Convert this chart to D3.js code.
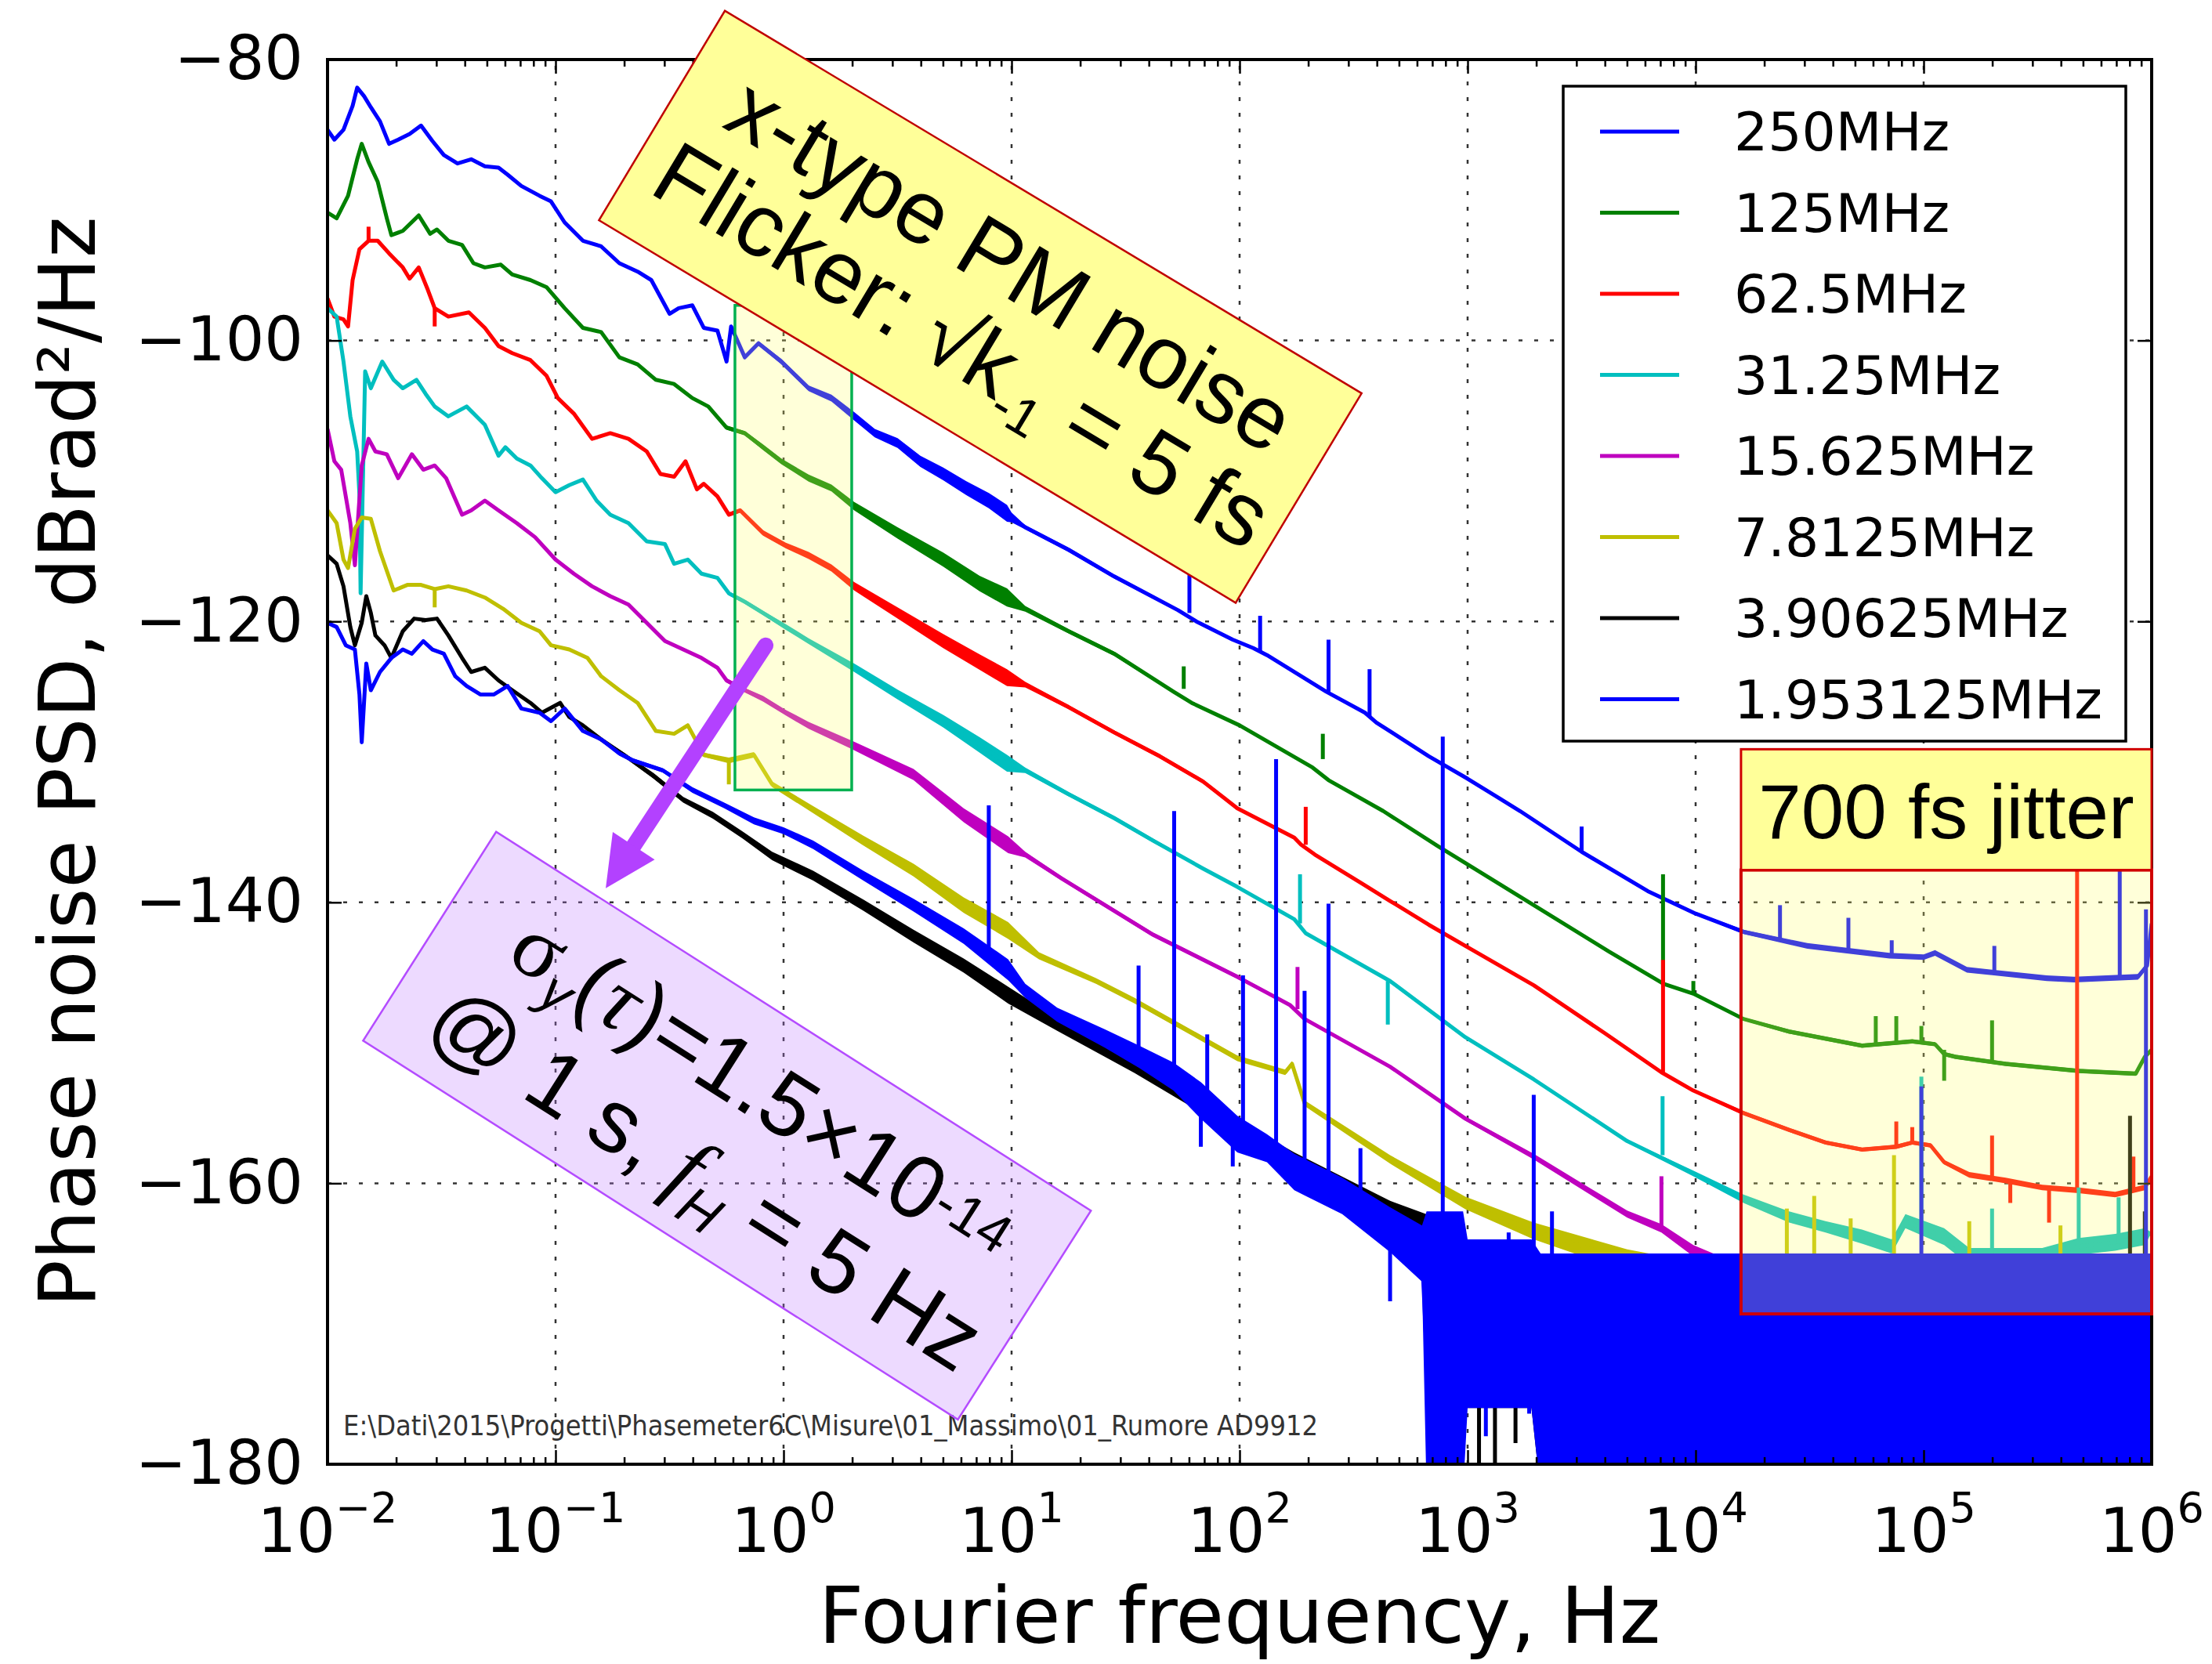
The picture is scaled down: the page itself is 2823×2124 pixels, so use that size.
<!DOCTYPE html>
<meta charset="utf-8">
<style>
  body { margin: 0; background: #fff; }
  svg { display: block; }
</style>
<body></body>
<script src="https://d3js.org/d3.v7.min.js"></script>
<script>

// Values.
// Each point: [log10(f / Hz), PSD in dBrad^2/Hz, width of the noise band in dB]
const names = ["250MHz", "125MHz", "62.5MHz", "31.25MHz", "15.625MHz", "7.8125MHz", "3.90625MHz", "1.953125MHz"];
const colors = ["#0000ff", "#008000", "#ff0000", "#00bfbf", "#bf00bf", "#bfbf00", "#000000", "#0000ff"];

const psd250 = [[-2.00,-85.0,0],[-1.97,-85.7,0],[-1.93,-85.0,0],[-1.89,-83.3,0],[-1.87,-82.0,0],[-1.84,-82.6,0],[-1.81,-83.4,0],[-1.77,-84.4,0],[-1.73,-86.0,0],[-1.69,-85.7,0],[-1.64,-85.3,0],[-1.59,-84.7,0],[-1.54,-85.8,0],[-1.49,-86.8,0],[-1.43,-87.4,0],[-1.37,-87.1,0],[-1.31,-87.6,0],[-1.25,-87.7,0],[-1.21,-88.2,0],[-1.15,-89.0,0],[-1.07,-89.7,0],[-1.02,-90.1,0],[-0.96,-91.6,0],[-0.88,-92.9,0],[-0.80,-93.3,0],[-0.72,-94.5,0],[-0.64,-95.1,0],[-0.58,-95.7,0],[-0.50,-98.1,0],[-0.46,-97.7,0],[-0.40,-97.5,0],[-0.35,-99.1,0.2],[-0.29,-99.3,0.2],[-0.25,-101.5,0.3],[-0.23,-99.0,0.3],[-0.17,-101.2,0.3],[-0.11,-100.2,0.3],[-0.01,-101.5,0.4],[0.11,-103.4,0.4],[0.21,-104.1,0.5],[0.31,-105.4,0.6],[0.40,-106.6,0.6],[0.50,-107.3,0.7],[0.60,-108.6,0.8],[0.70,-109.5,0.9],[0.80,-110.5,1.0],[0.90,-111.4,1.1],[0.98,-112.3,1.2],[1.00,-112.6,0.7],[1.06,-113.3,0.3],[1.25,-114.9,0.3],[1.45,-116.8,0.3],[1.73,-119.2,0.2],[1.81,-120.0,0.2],[1.97,-121.3,0.2],[2.06,-121.9,0.2],[2.12,-122.4,0.1],[2.38,-125.0,0.1],[2.55,-126.5,0.1],[2.60,-127.2,0.1],[2.83,-129.6,0.1],[3.00,-131.2,0.1],[3.23,-133.5,0.1],[3.50,-136.4,0.2],[3.79,-139.2,0.2],[4.00,-140.8,0.2],[4.21,-142.1,0.3],[4.49,-143.1,0.4],[4.85,-143.8,0.4],[5.00,-143.9,0.4],[5.05,-143.6,0.4],[5.19,-144.8,0.4],[5.54,-145.4,0.4],[5.66,-145.5,0.4],[5.94,-145.3,0.4],[5.98,-144.5,0.4],[6.00,-141.5,0]];
const psd125 = [[-2.00,-90.9,0],[-1.96,-91.3,0],[-1.91,-89.7,0],[-1.87,-87.1,0],[-1.85,-86.0,0],[-1.82,-87.3,0],[-1.78,-88.7,0],[-1.74,-91.3,0],[-1.72,-92.5,0],[-1.67,-92.2,0],[-1.60,-91.1,0],[-1.55,-92.4,0],[-1.52,-92.1,0],[-1.47,-92.9,0],[-1.41,-93.2,0],[-1.36,-94.5,0],[-1.31,-94.8,0],[-1.24,-94.6,0],[-1.19,-95.3,0],[-1.11,-95.7,0],[-1.04,-96.2,0],[-0.96,-97.7,0],[-0.88,-99.1,0],[-0.80,-99.4,0],[-0.72,-101.2,0],[-0.64,-101.7,0],[-0.56,-102.8,0],[-0.48,-103.1,0],[-0.40,-104.1,0.2],[-0.33,-104.7,0.2],[-0.25,-106.2,0.3],[-0.17,-106.6,0.3],[-0.09,-107.6,0.4],[-0.01,-108.6,0.4],[0.11,-109.8,0.5],[0.21,-110.5,0.5],[0.31,-111.8,0.6],[0.50,-113.7,0.8],[0.70,-115.6,1.0],[0.86,-117.3,1.1],[0.98,-118.3,1.3],[1.06,-119.1,0.4],[1.25,-120.7,0.3],[1.45,-122.3,0.3],[1.71,-125.0,0.2],[1.79,-125.8,0.2],[2.00,-127.4,0.1],[2.32,-130.4,0.1],[2.39,-131.3,0.1],[2.63,-133.5,0.1],[2.87,-136.0,0.1],[3.00,-137.3,0.1],[3.29,-140.2,0.1],[3.62,-143.5,0.1],[3.86,-145.8,0.1],[3.99,-146.5,0.1],[4.21,-148.3,0.2],[4.41,-149.2,0.3],[4.57,-149.7,0.3],[4.73,-150.2,0.3],[4.95,-149.9,0.3],[5.05,-150.1,0.3],[5.09,-150.8,0.3],[5.14,-151.0,0.3],[5.36,-151.5,0.3],[5.68,-152.0,0.3],[5.93,-152.2,0.3],[5.97,-151.0,0.2],[6.00,-150.5,0]];
const psd62 = [[-2.00,-97.0,0],[-1.97,-98.3,0],[-1.93,-98.5,0],[-1.91,-99.0,0],[-1.89,-95.7,0],[-1.86,-93.5,0],[-1.82,-92.9,0],[-1.78,-92.9,0],[-1.73,-93.8,0],[-1.67,-94.8,0],[-1.64,-95.6,0],[-1.60,-94.8,0],[-1.56,-96.4,0],[-1.53,-97.7,0],[-1.47,-98.3,0],[-1.38,-98.0,0],[-1.31,-99.1,0],[-1.25,-100.4,0],[-1.19,-100.9,0],[-1.11,-101.4,0],[-1.04,-102.5,0],[-0.99,-104.1,0],[-0.92,-105.2,0],[-0.84,-107.0,0],[-0.76,-106.6,0],[-0.68,-107.0,0],[-0.60,-107.9,0],[-0.54,-109.5,0],[-0.48,-109.7,0],[-0.43,-108.6,0],[-0.38,-110.6,0.2],[-0.35,-110.2,0.2],[-0.29,-111.1,0.2],[-0.24,-112.4,0.3],[-0.19,-112.1,0.3],[-0.09,-113.7,0.4],[0.01,-114.6,0.4],[0.11,-115.3,0.5],[0.21,-116.2,0.5],[0.31,-117.5,0.6],[0.50,-119.4,0.8],[0.70,-121.4,1.0],[0.86,-122.9,1.1],[0.98,-124.0,1.2],[1.06,-124.5,0.4],[1.25,-126.1,0.3],[1.45,-127.9,0.3],[1.65,-129.6,0.3],[1.84,-131.4,0.3],[1.99,-133.3,0.2],[2.24,-135.4,0.1],[2.27,-135.9,0.1],[2.33,-136.6,0.1],[2.54,-138.7,0.1],[2.66,-139.9,0.1],[2.83,-141.6,0.1],[2.99,-143.1,0.1],[3.29,-145.9,0.1],[3.60,-149.3,0.1],[3.85,-152.1,0.1],[3.99,-153.4,0.2],[4.21,-155.0,0.3],[4.41,-156.2,0.3],[4.57,-157.1,0.3],[4.73,-157.6,0.3],[4.88,-157.4,0.3],[4.95,-157.1,0.3],[5.03,-157.3,0.3],[5.09,-158.5,0.3],[5.20,-159.4,0.4],[5.36,-159.8,0.4],[5.52,-160.3,0.4],[5.68,-160.5,0.4],[5.84,-160.8,0.4],[5.97,-160.3,0.4],[6.00,-159.5,0]];
const psd31 = [[-2.00,-97.7,0],[-1.96,-98.3,0],[-1.93,-101.5,0],[-1.90,-105.4,0],[-1.87,-107.9,0],[-1.86,-111.0,0],[-1.855,-118.0,0],[-1.835,-102.2,0],[-1.81,-103.4,0],[-1.76,-101.5,0],[-1.71,-102.8,0],[-1.67,-103.4,0],[-1.61,-102.8,0],[-1.57,-103.8,0],[-1.53,-104.7,0],[-1.47,-105.4,0],[-1.39,-104.7,0],[-1.31,-106.0,0],[-1.25,-108.2,0],[-1.22,-107.6,0],[-1.17,-108.4,0],[-1.11,-108.9,0],[-1.06,-109.8,0],[-1.00,-110.8,0],[-0.94,-110.3,0],[-0.88,-109.9,0],[-0.82,-111.4,0],[-0.76,-112.4,0],[-0.68,-113.0,0],[-0.60,-114.3,0],[-0.52,-114.5,0],[-0.48,-115.9,0],[-0.42,-115.6,0],[-0.36,-116.6,0.2],[-0.29,-116.9,0.2],[-0.24,-118.0,0.3],[-0.17,-118.6,0.3],[-0.09,-119.4,0.3],[0.01,-120.4,0.4],[0.11,-121.4,0.4],[0.31,-123.3,0.6],[0.50,-125.2,0.7],[0.70,-127.1,0.9],[0.86,-128.8,1.1],[0.98,-130.1,1.2],[1.06,-130.6,0.4],[1.25,-132.3,0.3],[1.45,-134.0,0.3],[1.62,-135.6,0.3],[1.84,-137.6,0.2],[1.99,-138.9,0.2],[2.24,-141.2,0.2],[2.29,-142.2,0.1],[2.66,-145.6,0.1],[2.99,-149.6,0.2],[3.29,-152.6,0.2],[3.70,-157.0,0.2],[3.99,-159.3,0.4],[4.21,-161.1,0.6],[4.41,-162.4,0.8],[4.57,-163.1,0.8],[4.73,-163.8,1.0],[4.86,-164.5,1.0],[4.92,-162.7,1.0],[5.09,-163.8,1.2],[5.20,-165.2,1.2],[5.36,-165.2,1.2],[5.52,-165.2,1.2],[5.68,-164.5,1.2],[5.84,-164.2,1.2],[5.97,-163.8,1.2],[6.00,-163.5,0]];
const psd15 = [[-2.00,-106.3,0],[-1.97,-108.6,0],[-1.94,-109.2,0],[-1.90,-113.0,0],[-1.88,-116.0,0],[-1.85,-108.9,0],[-1.82,-107.0,0],[-1.79,-107.9,0],[-1.74,-108.1,0],[-1.69,-109.8,0],[-1.63,-108.1,0],[-1.58,-109.2,0],[-1.53,-108.9,0],[-1.48,-109.8,0],[-1.41,-112.4,0],[-1.37,-112.1,0],[-1.31,-111.4,0],[-1.25,-112.1,0],[-1.17,-113.0,0],[-1.09,-114.0,0],[-1.00,-115.6,0],[-0.92,-116.6,0],[-0.84,-117.5,0],[-0.76,-118.2,0],[-0.68,-118.8,0],[-0.60,-120.1,0],[-0.52,-121.4,0.2],[-0.44,-122.0,0.2],[-0.36,-122.6,0.2],[-0.29,-123.3,0.3],[-0.25,-124.2,0.3],[-0.17,-124.9,0.3],[-0.09,-125.5,0.4],[0.01,-126.5,0.4],[0.11,-127.4,0.5],[0.30,-128.8,0.6],[0.57,-130.9,0.8],[0.79,-133.8,1.0],[0.985,-135.9,1.2],[1.06,-136.6,0.4],[1.22,-138.3,0.3],[1.62,-142.3,0.3],[1.99,-145.3,0.3],[2.22,-147.3,0.2],[2.285,-148.3,0.2],[2.66,-151.7,0.2],[2.99,-155.4,0.3],[3.29,-158.1,0.4],[3.70,-162.2,0.5],[3.85,-163.2,0.6],[3.99,-164.8,0.8],[4.21,-166.4,1.0],[4.50,-167.3,1.2],[5.00,-167.8,1.2],[5.50,-168.0,1.2],[6.00,-168.2,0]];
const psd7 = [[-2.00,-112.1,0],[-1.96,-113.0,0],[-1.93,-115.6,0],[-1.91,-116.2,0],[-1.88,-113.4,0],[-1.85,-112.6,0],[-1.81,-112.7,0],[-1.77,-115.0,0],[-1.71,-117.8,0],[-1.65,-117.4,0],[-1.59,-117.4,0],[-1.53,-117.7,0],[-1.47,-117.5,0],[-1.39,-117.8,0],[-1.31,-118.3,0],[-1.23,-119.1,0],[-1.15,-120.1,0],[-1.07,-120.7,0],[-1.02,-121.7,0],[-0.94,-122.0,0],[-0.86,-122.6,0],[-0.80,-123.9,0],[-0.72,-124.9,0],[-0.64,-125.8,0],[-0.56,-127.8,0.2],[-0.48,-128.0,0.2],[-0.42,-127.4,0.3],[-0.35,-129.5,0.3],[-0.24,-129.9,0.4],[-0.13,-129.5,0.4],[-0.05,-131.6,0.4],[0.13,-133.4,0.5],[0.35,-135.6,0.7],[0.57,-137.7,0.9],[0.79,-140.2,1.1],[0.985,-142.0,1.2],[1.12,-143.8,0.5],[1.37,-145.6,0.4],[1.54,-147.0,0.4],[1.99,-151.1,0.4],[2.20,-152.1,0.4],[2.23,-151.5,0.4],[2.285,-154.3,0.4],[2.66,-158.3,0.6],[2.99,-161.4,0.9],[3.29,-163.4,1.2],[3.70,-165.5,1.6],[4.12,-167.0,2.0],[4.50,-167.5,2.5],[5.00,-167.5,2.5],[5.50,-167.5,2.5],[6.00,-167.5,0]];
const psd3 = [[-2.00,-115.3,0],[-1.96,-115.9,0],[-1.93,-117.5,0],[-1.90,-120.4,0],[-1.88,-121.7,0],[-1.85,-120.1,0],[-1.83,-118.2,0],[-1.81,-119.4,0],[-1.79,-121.0,0],[-1.75,-121.7,0],[-1.72,-122.6,0],[-1.67,-120.7,0],[-1.62,-119.8,0],[-1.57,-119.9,0],[-1.52,-119.8,0],[-1.47,-121.0,0],[-1.41,-122.6,0],[-1.37,-123.6,0],[-1.31,-123.3,0],[-1.25,-124.2,0],[-1.19,-124.9,0],[-1.11,-125.8,0],[-1.06,-126.5,0],[-0.98,-125.8,0],[-0.94,-126.8,0],[-0.88,-127.4,0.2],[-0.80,-128.4,0.2],[-0.70,-129.5,0.3],[-0.57,-131.0,0.4],[-0.44,-132.7,0.4],[-0.31,-133.8,0.5],[-0.18,-135.2,0.5],[-0.05,-136.7,0.6],[0.13,-138.1,0.7],[0.35,-140.2,0.8],[0.57,-142.4,0.9],[0.79,-144.5,1.0],[0.985,-146.6,1.2],[1.20,-148.7,0.9],[1.54,-151.7,0.9],[1.99,-156.0,1.0],[2.24,-158.4,1.2],[2.66,-162.0,1.5],[2.87,-163.5,2.0],[2.95,-171.0,10],[3.28,-171.0,10],[3.32,-173.5,17],[4.00,-173.5,17],[6.00,-173.5,17]];
const psd1 = [[-2.00,-120.1,0],[-1.96,-120.4,0],[-1.92,-121.7,0],[-1.88,-122.0,0],[-1.86,-125.2,0],[-1.85,-128.6,0],[-1.83,-123.0,0],[-1.81,-124.9,0],[-1.77,-123.6,0],[-1.72,-122.6,0],[-1.67,-122.0,0],[-1.63,-122.3,0],[-1.58,-121.4,0],[-1.54,-122.0,0],[-1.49,-122.3,0],[-1.44,-123.9,0],[-1.39,-124.6,0],[-1.33,-125.2,0],[-1.27,-125.2,0],[-1.21,-124.6,0],[-1.15,-126.2,0],[-1.07,-126.5,0],[-1.02,-127.1,0],[-0.96,-126.2,0],[-0.88,-127.8,0.2],[-0.80,-128.4,0.2],[-0.72,-129.4,0.3],[-0.66,-129.9,0.3],[-0.53,-130.6,0.3],[-0.40,-132.0,0.4],[-0.26,-133.1,0.4],[-0.13,-134.2,0.5],[0.00,-134.9,0.5],[0.13,-135.9,0.6],[0.35,-138.1,0.7],[0.57,-140.2,0.9],[0.79,-142.4,1.1],[0.985,-144.8,1.5],[1.06,-146.3,1.0],[1.20,-148.0,1.0],[1.41,-149.7,1.3],[1.56,-151.0,1.6],[1.71,-152.4,2.0],[1.83,-154.1,2.6],[1.99,-156.5,2.6],[2.12,-157.5,2.0],[2.24,-159.2,2.6],[2.45,-160.9,2.6],[2.66,-163.3,3.2],[2.80,-165.0,4.0],[2.82,-172.0,20],[2.98,-172.0,20],[3.00,-170.0,12],[3.28,-170.0,12],[3.32,-173.5,17],[6.00,-173.5,17]];

// spikes: [log10(f), level at the foot, level at the tip]
const spikes250 = [[1.78,-119.4,-116.7],[2.09,-122.2,-119.6],[2.39,-125.0,-121.3],[2.57,-126.8,-123.4],[3.50,-136.4,-134.6],[4.37,-142.7,-140.2],[4.67,-143.4,-141.1],[4.86,-143.8,-142.7],[5.31,-145.1,-143.1],[5.86,-145.5,-136.5]];
const spikes125 = [[1.755,-124.8,-123.2],[2.365,-129.8,-128.0],[3.857,-145.8,-138.0],[3.99,-146.5,-145.6],[4.79,-150.2,-148.1],[4.88,-150.1,-148.1],[4.99,-149.9,-148.8],[5.09,-150.5,-152.7],[5.30,-151.3,-148.4]];
const spikes62 = [[-1.82,-92.9,-91.9],[-1.53,-97.7,-99.0],[2.29,-135.9,-133.2],[3.857,-152.1,-144.1],[4.88,-157.4,-155.6],[4.95,-157.1,-156.0],[5.30,-159.6,-156.6],[5.38,-159.9,-161.4],[5.55,-160.3,-162.8],[5.673,-160.5,-137.5],[5.92,-160.5,-158.1]];
const spikes31 = [[2.265,-141.5,-138.0],[2.65,-145.6,-148.7],[3.855,-158.0,-153.8],[4.99,-163.5,-152.4],[5.30,-165.2,-161.8],[5.68,-164.5,-160.3],[5.855,-164.2,-161.0]];
const spikes15 = [[2.254,-147.6,-144.6],[3.85,-163.2,-159.5]];
const spikes7 = [[-1.53,-117.7,-119.0],[-0.24,-129.9,-131.6],[4.40,-167.5,-161.8],[4.52,-167.5,-160.9],[4.57,-168.0,-180.0],[4.68,-167.0,-162.5],[4.87,-167.0,-158.0],[4.93,-169.0,-180.0],[5.08,-169.0,-180.0],[5.20,-167.5,-162.7],[5.60,-167.5,-163.0]];
const spikes3 = [[3.05,-170.0,-180.0],[3.12,-171.0,-180.0],[3.21,-171.0,-178.5],[5.905,-166.0,-155.2],[5.97,-166.0,-162.0]];
const spikes1 = [[0.90,-143.7,-133.1],[1.557,-151.0,-144.5],[1.713,-152.4,-133.5],[1.83,-154.1,-157.4],[1.858,-154.0,-149.4],[1.97,-156.5,-158.8],[2.015,-156.5,-145.2],[2.16,-157.5,-129.8],[2.285,-159.0,-146.3],[2.39,-160.0,-140.1],[2.53,-161.0,-157.5],[2.66,-163.3,-168.4],[2.891,-164.0,-128.2],[3.08,-170.0,-178.0],[3.18,-168.0,-163.5],[3.27,-170.0,-176.4],[3.29,-165.0,-153.7],[3.37,-165.0,-162.0],[4.99,-166.0,-153.1],[5.975,-166.0,-140.5]];

const xDecades = [-2, -1, 0, 1, 2, 3, 4, 5, 6];
const yTicks = [-180, -160, -140, -120, -100, -80];
const pathNote = "E:\\Dati\\2015\\Progetti\\Phasemeter6C\\Misure\\01_Massimo\\01_Rumore AD9912";

const psdData = [psd250, psd125, psd62, psd31, psd15, psd7, psd3, psd1];
const spikeData = [spikes250, spikes125, spikes62, spikes31, spikes15, spikes7, spikes3, spikes1];

const W = 2823, H = 2124;

const x = d3.scaleLog().domain([1e-2, 1e6]).range([418, 2746]);
const y = d3.scaleLinear().domain([-180, -80]).range([1869, 76]);
const fx = lf => x(10 ** lf);

const svg = d3.select("body").append("svg")
    .attr("width", W)
    .attr("height", H)
    .attr("font-family", "DejaVu Sans, sans-serif");

svg.append("rect").attr("width", W).attr("height", H).attr("fill", "#fff");

svg.append("defs").append("clipPath").attr("id", "clip")
  .append("rect")
    .attr("x", x(1e-2)).attr("y", y(-80))
    .attr("width", x(1e6) - x(1e-2)).attr("height", y(-180) - y(-80));

// dotted grid
const majorX = xDecades.map(e => 10 ** e);
const minorX = d3.range(-2, 6).flatMap(e => d3.range(2, 10).map(m => m * 10 ** e));

const grid = svg.append("g")
    .attr("stroke", "#333")
    .attr("stroke-width", 2.5)
    .attr("stroke-dasharray", "5,15");
grid.append("g").selectAll("line").data(majorX).join("line")
    .attr("x1", d => x(d)).attr("x2", d => x(d))
    .attr("y1", y(-180)).attr("y2", y(-80));
grid.append("g").selectAll("line").data(yTicks).join("line")
    .attr("x1", x(1e-2)).attr("x2", x(1e6))
    .attr("y1", d => y(d)).attr("y2", d => y(d));

// curves
const band = d3.area()
    .x(d => fx(d[0]))
    .y0(d => y(d[1] - d[2] / 2))
    .y1(d => y(d[1] + d[2] / 2));
const line = d3.line()
    .x(d => fx(d[0]))
    .y(d => y(d[1]));

const plot = svg.append("g").attr("clip-path", "url(#clip)");
names.forEach((name, i) => {
  const g = plot.append("g");
  g.append("path").datum(psdData[i])
      .attr("d", band)
      .attr("fill", colors[i]);
  g.append("path").datum(psdData[i])
      .attr("d", line)
      .attr("fill", "none")
      .attr("stroke", colors[i])
      .attr("stroke-width", 5)
      .attr("stroke-linejoin", "round");
  g.append("g").selectAll("line").data(spikeData[i]).join("line")
      .attr("x1", d => fx(d[0])).attr("x2", d => fx(d[0]))
      .attr("y1", d => y(d[1])).attr("y2", d => y(d[2]))
      .attr("stroke", colors[i])
      .attr("stroke-width", 5);
});

// ticks on all four sides, pointing inward
function ticks(axis, tx, ty) {
  return svg.append("g")
      .attr("transform", `translate(${tx},${ty})`)
      .call(axis)
      .call(g => g.select(".domain").remove())
      .call(g => g.selectAll(".tick line").attr("stroke", "#000").attr("stroke-width", 2.5));
}
ticks(d3.axisBottom(x).tickValues(majorX).tickSize(-18).tickFormat(""), 0, y(-180));
ticks(d3.axisBottom(x).tickValues(minorX).tickSize(-9).tickFormat(""), 0, y(-180));
ticks(d3.axisTop(x).tickValues(majorX).tickSize(-18).tickFormat(""), 0, y(-80));
ticks(d3.axisTop(x).tickValues(minorX).tickSize(-9).tickFormat(""), 0, y(-80));
ticks(d3.axisRight(y).tickValues(yTicks).tickSize(-18).tickFormat(""), x(1e6), 0);
ticks(d3.axisLeft(y).tickValues(yTicks).tickSize(-18).tickPadding(31), x(1e-2), 0)
  .call(g => g.selectAll("text")
      .attr("font-size", 78)
      .attr("font-family", "DejaVu Sans")
      .attr("fill", "#000"));

svg.append("rect")
    .attr("x", x(1e-2)).attr("y", y(-80))
    .attr("width", x(1e6) - x(1e-2)).attr("height", y(-180) - y(-80))
    .attr("fill", "none")
    .attr("stroke", "#000")
    .attr("stroke-width", 4);

// x tick labels 10^n
svg.append("g")
    .attr("font-size", 78)
    .attr("text-anchor", "middle")
  .selectAll("text")
  .data(xDecades)
  .join("text")
    .attr("x", d => x(10 ** d))
    .attr("y", y(-180) + 112)
    .each(function(d) {
      const t = d3.select(this);
      t.append("tspan").text("10");
      t.append("tspan").attr("font-size", 54).attr("dy", -38).text(d < 0 ? "\u2212" + (-d) : d);
    });

// axis titles
svg.append("text")
    .attr("x", (x(1e-2) + x(1e6)) / 2)
    .attr("y", 2097)
    .attr("text-anchor", "middle")
    .attr("font-size", 100)
    .text("Fourier frequency, Hz");

svg.append("text")
    .attr("transform", `translate(121,${(y(-80) + y(-180)) / 2}) rotate(-90)`)
    .attr("text-anchor", "middle")
    .attr("font-size", 100)
    .text("Phase noise PSD, dBrad\u00b2/Hz");

svg.append("text")
    .attr("x", x(1e-2) + 20)
    .attr("y", y(-180) - 37)
    .attr("font-family", "DejaVu Sans Condensed, DejaVu Sans")
    .attr("font-size", 36)
    .attr("fill", "#333")
    .attr("textLength", 1244)
    .attr("lengthAdjust", "spacingAndGlyphs")
    .text(pathNote);

// legend
const lgX = x(1e6) - 33 - 718, lgY = y(-80) + 34;
const legend = svg.append("g").attr("transform", `translate(${lgX},${lgY})`);
legend.append("rect")
    .attr("width", 718).attr("height", 836)
    .attr("fill", "#fff").attr("stroke", "#000").attr("stroke-width", 3.5);
const row = legend.selectAll("g.row").data(names).join("g")
    .attr("class", "row")
    .attr("transform", (d, i) => `translate(0,${58 + i * 103.5})`);
row.append("line")
    .attr("x1", 47).attr("x2", 148)
    .attr("stroke", (d, i) => colors[i])
    .attr("stroke-width", 5);
row.append("text")
    .attr("x", 218).attr("y", 24)
    .attr("font-size", 68)
    .text(d => d);

// ---- annotations pasted on the figure ----
const overlay = svg.append("g").attr("font-family", "Liberation Sans, Arial, sans-serif");

// flicker region (green frame)
overlay.append("rect")
    .attr("x", x(0.612)).attr("y", y(-97.5))
    .attr("width", x(1.99) - x(0.612)).attr("height", y(-132) - y(-97.5))
    .attr("fill", "#ffff66").attr("fill-opacity", 0.25)
    .attr("stroke", "#00b050").attr("stroke-width", 3.5);

// 700 fs jitter region
const jx0 = x(10 ** 4.199), jx1 = x(1e6);
overlay.append("rect")
    .attr("x", jx0).attr("y", y(-137.7))
    .attr("width", jx1 - jx0).attr("height", y(-169.3) - y(-137.7))
    .attr("fill", "#ffff66").attr("fill-opacity", 0.25)
    .attr("stroke", "#d00000").attr("stroke-width", 4);
overlay.append("rect")
    .attr("x", jx0).attr("y", y(-129.1))
    .attr("width", jx1 - jx0).attr("height", y(-137.7) - y(-129.1))
    .attr("fill", "#ffff99")
    .attr("stroke", "#d00000").attr("stroke-width", 3);
overlay.append("text")
    .attr("x", (jx0 + jx1) / 2).attr("y", y(-129.1) + 114)
    .attr("text-anchor", "middle")
    .attr("font-size", 98)
    .text("700 fs jitter");

// yellow rotated note
const n1 = overlay.append("g")
    .attr("transform", `translate(${x(7.29)},${y(-97.6)}) rotate(31)`);
n1.append("rect")
    .attr("x", -474).attr("y", -156).attr("width", 948).attr("height", 312)
    .attr("fill", "#ffff99").attr("stroke", "#c00000").attr("stroke-width", 2.5);
n1.append("text")
    .attr("x", 6).attr("y", -27)
    .attr("text-anchor", "middle").attr("font-size", 114)
    .text("x-type PM noise");
const n1b = n1.append("text")
    .attr("x", 6).attr("y", 93)
    .attr("text-anchor", "middle").attr("font-size", 114);
n1b.append("tspan").text("Flicker: \u221Ak");
n1b.append("tspan").attr("font-size", 68).attr("dy", 22).text("-1");
n1b.append("tspan").attr("dy", -22).text(" = 5 fs");

// purple rotated note
const n2 = overlay.append("g")
    .attr("transform", `translate(${x(0.565)},${y(-155.9)}) rotate(32.5)`);
n2.append("rect")
    .attr("x", -450).attr("y", -158).attr("width", 900).attr("height", 316)
    .attr("fill", "#be78ff").attr("fill-opacity", 0.27)
    .attr("stroke", "#b44cff").attr("stroke-width", 2.5);
const n2a = n2.append("text")
    .attr("x", 13).attr("y", -25)
    .attr("text-anchor", "middle").attr("font-size", 114);
n2a.append("tspan").attr("font-family", "Liberation Serif, serif").text("\u03C3");
n2a.append("tspan").attr("font-size", 70).attr("font-style", "italic").attr("dy", 22).text("y");
n2a.append("tspan").attr("dy", -22).text("(");
n2a.append("tspan").attr("font-family", "Liberation Serif, serif").attr("font-style", "italic").text("\u03C4");
n2a.append("tspan").text(")=1.5\u00D710");
n2a.append("tspan").attr("font-size", 70).attr("dy", -20).text("-14");
const n2b = n2.append("text")
    .attr("x", 13).attr("y", 110)
    .attr("text-anchor", "middle").attr("font-size", 114);
n2b.append("tspan").text("@ 1 s, ");
n2b.append("tspan").attr("font-family", "Liberation Serif, serif").attr("font-style", "italic").text("f");
n2b.append("tspan").attr("font-size", 70).attr("font-style", "italic").attr("dy", 24).text("H");
n2b.append("tspan").attr("dy", -24).text(" = 5 Hz");

// purple arrow from the flicker band to the note
const a0 = [x(0.834), y(-121.7)], a1 = [x(0.166), y(-139.0)];
const len = Math.hypot(a1[0] - a0[0], a1[1] - a0[1]);
const ux = (a1[0] - a0[0]) / len, uy = (a1[1] - a0[1]) / len;
const headL = 65, headW = 32;
const hb = [a1[0] - ux * headL, a1[1] - uy * headL];
overlay.append("line")
    .attr("x1", a0[0]).attr("y1", a0[1])
    .attr("x2", hb[0] + ux * 10).attr("y2", hb[1] + uy * 10)
    .attr("stroke", "#b341ff").attr("stroke-width", 20).attr("stroke-linecap", "round");
overlay.append("path")
    .attr("d", `M${a1[0]},${a1[1]}L${hb[0] - uy * headW},${hb[1] + ux * headW}L${hb[0] + uy * headW},${hb[1] - ux * headW}Z`)
    .attr("fill", "#b341ff");

</script>
